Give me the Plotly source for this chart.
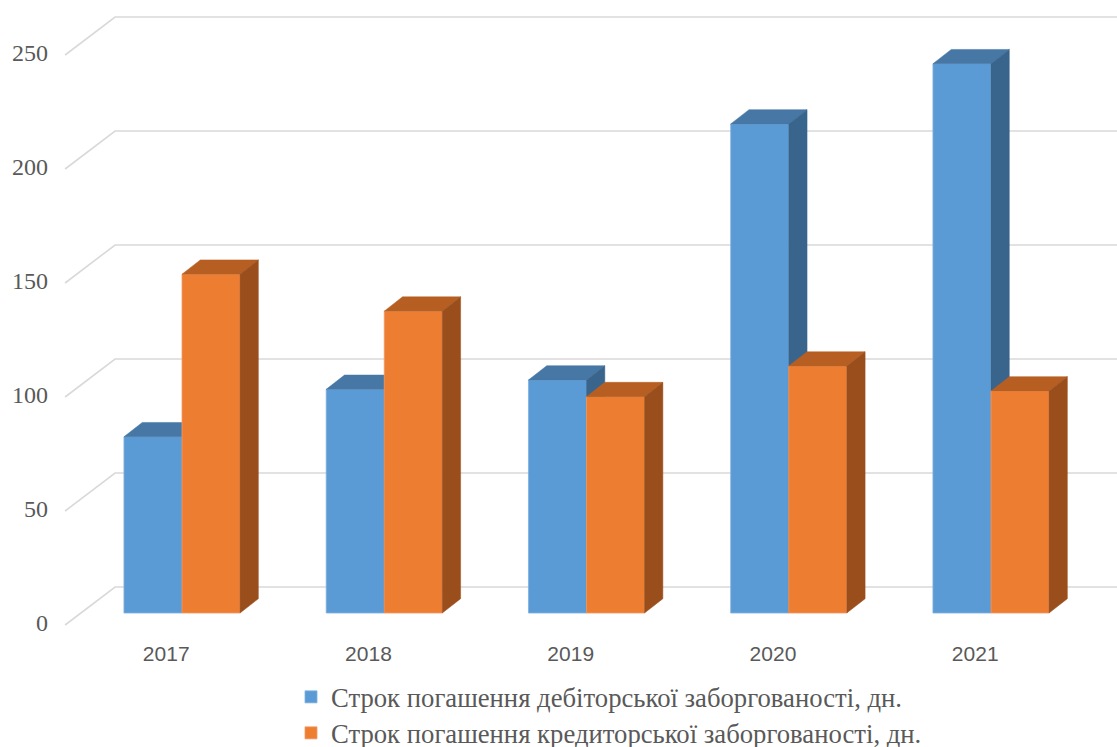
import plotly.graph_objects as go

# ---- data -------------------------------------------------------------
years = ["2017", "2018", "2019", "2020", "2021"]
receivable_days = [77.3, 98.1, 102.2, 214.5, 240.9]   # дебіторська заборгованість
payable_days = [148.6, 132.4, 94.9, 108.3, 97.4]       # кредиторська заборгованість
y_ticks = [0, 50, 100, 150, 200, 250]

series_names = [
    "Строк погашення дебіторської заборгованості, дн.",
    "Строк погашення кредиторської заборгованості, дн.",
]

# ---- pseudo-3D geometry (in axis units) --------------------------------
BAR_W = 0.287                        # width of one bar front face
BAR_DX, BAR_DY = 0.0905, 6.27        # depth of a bar (oblique projection)
FRONT_DX, FRONT_DY = -0.078, -5.26   # front edge of the floor relative to bar plane
BACK_DX, BACK_DY = 0.169, 11.4       # back wall relative to bar plane
WALL_X = -0.5                        # left wall position
X_RANGE = [-0.8999, 4.6230]
Y_RANGE = [-58.77, 268.86]

BLUE = dict(front="#5B9BD5", top="#4677A5", side="#39648B", edge="#7FB0DF")
ORANGE = dict(front="#ED7D31", top="#B75F22", side="#9A4E1C", edge="#F39B63")

GRID = "#D9D9D9"
TEXT = "#595959"

idx = list(range(len(years)))
fig = go.Figure()

# back wall gridlines plus the slanted lines on the left wall
gx, gy = [], []
for v in y_ticks:
    gx += [WALL_X + FRONT_DX, WALL_X + BACK_DX, X_RANGE[1] + 1, None]
    gy += [v + FRONT_DY, v + BACK_DY, v + BACK_DY, None]
fig.add_trace(go.Scatter(
    x=gx, y=gy, mode="lines", line=dict(color=GRID, width=1.6),
    hoverinfo="skip", showlegend=False,
))

# value axis labels, sitting on the front edge of the left wall
fig.add_trace(go.Scatter(
    x=[WALL_X + FRONT_DX - 0.085] * len(y_ticks),
    y=[v + FRONT_DY for v in y_ticks],
    mode="text", text=[str(v) for v in y_ticks], textposition="middle left",
    textfont=dict(family="Liberation Serif", size=24, color=TEXT),
    hoverinfo="skip", showlegend=False,
))

# category labels below the floor
fig.add_trace(go.Scatter(
    x=[i + FRONT_DX for i in idx],
    y=[FRONT_DY - 13.4] * len(idx),
    mode="text", text=years, textposition="middle center",
    textfont=dict(family="Liberation Sans", size=21, color=TEXT),
    hoverinfo="skip", showlegend=False,
))


def add_series(name, values, offset, colors, xa, ya, legend):
    fig.add_trace(go.Bar(
        x=idx, y=values, base=0, offset=offset, width=BAR_W,
        marker=dict(color=colors["front"], line=dict(color=colors["edge"], width=0.8)),
        name=name, legend=legend, xaxis=xa, yaxis=ya,
        hovertemplate="%{y}<extra></extra>",
    ))
    for i, v in zip(idx, values):
        xl = i + offset
        xr = xl + BAR_W
        # top face
        fig.add_trace(go.Scatter(
            x=[xl, xr, xr + BAR_DX, xl + BAR_DX, xl],
            y=[v, v, v + BAR_DY, v + BAR_DY, v],
            mode="lines", fill="toself", fillcolor=colors["top"],
            line=dict(color=colors["top"], width=0.5),
            hoverinfo="skip", showlegend=False, xaxis=xa, yaxis=ya,
        ))
        # right side face
        fig.add_trace(go.Scatter(
            x=[xr, xr + BAR_DX, xr + BAR_DX, xr, xr],
            y=[0, BAR_DY, v + BAR_DY, v, 0],
            mode="lines", fill="toself", fillcolor=colors["side"],
            line=dict(color=colors["side"], width=0.5),
            hoverinfo="skip", showlegend=False, xaxis=xa, yaxis=ya,
        ))


# each series lives on its own overlaid axes so the front series hides the back one
add_series(series_names[0], receivable_days, -BAR_W, BLUE, "x2", "y2", "legend")
add_series(series_names[1], payable_days, 0.0, ORANGE, "x3", "y3", "legend2")

hidden = dict(visible=False, fixedrange=True)
legend_style = dict(
    x=291 / 1117, xanchor="left", yanchor="middle",
    font=dict(family="Liberation Serif", size=26.7, color=TEXT),
    bgcolor="rgba(0,0,0,0)",
)
fig.update_layout(
    width=1117, height=747,
    margin=dict(l=0, r=0, t=0, b=0, pad=0, autoexpand=False),
    paper_bgcolor="white", plot_bgcolor="white",
    xaxis=dict(range=X_RANGE, **hidden),
    yaxis=dict(range=Y_RANGE, **hidden),
    xaxis2=dict(range=X_RANGE, overlaying="x", anchor="y2", **hidden),
    yaxis2=dict(range=Y_RANGE, overlaying="y", anchor="x2", **hidden),
    xaxis3=dict(range=X_RANGE, overlaying="x", anchor="y3", **hidden),
    yaxis3=dict(range=Y_RANGE, overlaying="y", anchor="x3", **hidden),
    showlegend=True,
    legend=dict(y=1 - 697 / 747, **legend_style),
    legend2=dict(y=1 - 733 / 747, **legend_style),
)

fig.write_html("out.html")
